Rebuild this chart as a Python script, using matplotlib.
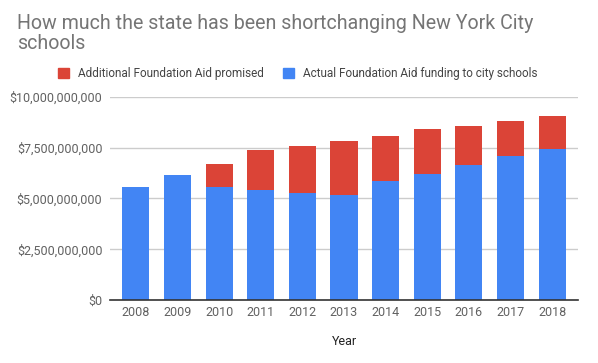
import matplotlib
matplotlib.use("Agg")
import matplotlib.pyplot as plt
from matplotlib.ticker import FuncFormatter
from matplotlib.patches import Patch

years = ["2008", "2009", "2010", "2011", "2012", "2013", "2014", "2015", "2016", "2017", "2018"]
actual = [5.56e9, 6.15e9, 5.56e9, 5.43e9, 5.26e9, 5.16e9, 5.85e9, 6.21e9, 6.64e9, 7.10e9, 7.43e9]
promised_total = [5.56e9, 6.15e9, 6.69e9, 7.38e9, 7.57e9, 7.82e9, 8.07e9, 8.41e9, 8.56e9, 8.80e9, 9.05e9]
additional = [t - a for t, a in zip(promised_total, actual)]
yticks = [0, 2.5e9, 5e9, 7.5e9, 10e9]

BLUE = "#4285F4"
RED = "#DB4437"
GRAY = "#757575"

plt.rcParams['font.family'] = ['Roboto', 'DejaVu Sans']

fig = plt.figure(figsize=(5.98, 3.63), dpi=100)
ax = fig.add_axes([110/598, 1 - 300/363, (578-110)/598, (300-96.7)/363])

x = list(range(len(years)))
ax.bar(x, actual, width=0.65, color=BLUE, zorder=3)
ax.bar(x, additional, width=0.65, bottom=actual, color=RED, zorder=3)

ax.set_xlim(-0.62, len(years) - 1 + 0.62)
ax.set_ylim(0, 10e9)
ax.set_yticks(yticks)
ax.yaxis.set_major_formatter(FuncFormatter(lambda v, p: "${:,.0f}".format(v)))
ax.set_xticks(x)
ax.set_xticklabels(years)
ax.grid(axis='y', color='#CCCCCC', linewidth=1, zorder=0)
for s in ['top', 'right', 'left']:
    ax.spines[s].set_visible(False)
ax.spines['bottom'].set_color('#333333')
ax.spines['bottom'].set_linewidth(1.2)
ax.spines['bottom'].set_zorder(4)
ax.tick_params(axis='both', length=0, labelsize=9, colors='#616161', pad=5.5)
ax.tick_params(axis='x', pad=4.5)
ax.set_xlabel("Year", fontsize=9, color='#222222', labelpad=11)

fig.text(17/598, 1 - 14/363, "How much the state has been shortchanging New York City\nschools",
         fontsize=14.1, color=GRAY, va='top', ha='left', linespacing=1.05)

handles = [Patch(color=RED, label="Additional Foundation Aid promised"),
           Patch(color=BLUE, label="Actual Foundation Aid funding to city schools")]
leg = fig.legend(handles=handles, loc='center', bbox_to_anchor=(298/598, 1 - 73.5/363), ncol=2,
                 frameon=False, fontsize=8.5, handlelength=0.93, handleheight=0.93,
                 handletextpad=0.76, columnspacing=1.6, borderpad=0, borderaxespad=0)
for t in leg.get_texts():
    t.set_color('#444444')

fig.savefig("out.png", dpi=100)
